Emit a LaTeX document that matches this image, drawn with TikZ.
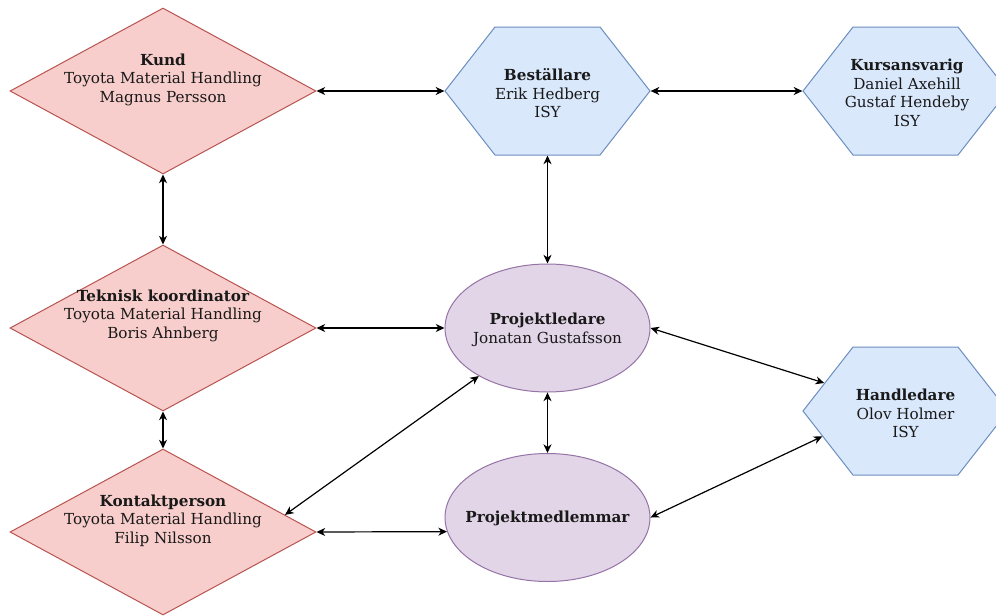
\documentclass[tikz,border=0pt]{standalone}
\usepackage{fontspec}
\setmainfont{DejaVu Serif}
\usetikzlibrary{shapes.geometric,shapes.symbols,arrows.meta}
\definecolor{redfill}{HTML}{F8CECC}
\definecolor{redline}{HTML}{B85450}
\definecolor{bluefill}{HTML}{DAE8FC}
\definecolor{blueline}{HTML}{6C8EBF}
\definecolor{purplefill}{HTML}{E1D5E7}
\definecolor{purpleline}{HTML}{9673A6}
\begin{document}
\begin{tikzpicture}[x=0.75pt,y=-0.75pt,
  redbox/.style={diamond, draw=redline, fill=redfill, minimum width=229.5pt, minimum height=124.5pt, inner sep=0pt, line width=0.75pt},
  hexbox/.style={signal, signal to=east and west, signal pointer angle=104, draw=blueline, fill=bluefill, minimum width=153.75pt, minimum height=96pt, inner sep=0pt, line width=0.75pt},
  ellbox/.style={ellipse, draw=purpleline, fill=purplefill, minimum width=153.75pt, minimum height=96pt, inner sep=0pt, line width=0.75pt},
  txt/.style={align=center, font=\fontsize{11.4pt}{13.9pt}\selectfont, inner sep=0pt, text=black!90},
  link/.style={{Stealth[length=6.5pt,width=6pt,inset=2pt]}-{Stealth[length=6.5pt,width=6pt,inset=2pt]}, line width=0.9pt}
]
\useasboundingbox (0,0) rectangle (996,615);
\clip (0,0) rectangle (996,615);
\fill[white] (0,0) rectangle (996,615);

\node[redbox] (kund) at (163,91) {};
\node[redbox] (tek) at (163,328) {};
\node[redbox] (kon) at (163,532) {};
\node[hexbox] (best) at (547.5,91) {};
\node[hexbox] (kurs) at (905.5,91) {};
\node[hexbox] (hand) at (905.5,411) {};
\node[ellbox] (pl) at (547.5,328) {};
\node[ellbox] (pm) at (547.5,517.5) {};

\node[txt] (kund-t) at (163,79.5) {\textbf{Kund}\\Toyota Material Handling\\Magnus Persson};
\node[txt] (tek-t) at (163,315.5) {\textbf{Teknisk koordinator}\\Toyota Material Handling\\Boris Ahnberg};
\node[txt] (kon-t) at (163,520.5) {\textbf{Kontaktperson}\\Toyota Material Handling\\Filip Nilsson};
\node[txt] (best-t) at (547.5,93.5) {\textbf{Beställare}\\Erik Hedberg\\ISY};
\node[txt] (kurs-t) at (907,93) {\textbf{Kursansvarig}\\Daniel Axehill\\Gustaf Hendeby\\ISY};
\node[txt] (hand-t) at (905.5,413.5) {\textbf{Handledare}\\Olov Holmer\\ISY};
\node[txt] (pl-t) at (547.5,330) {\textbf{Projektledare}\\Jonatan Gustafsson};
\node[txt] (pm-t) at (547.5,518.5) {\textbf{Projektmedlemmar}};

\draw[link] (kund) -- (best);
\draw[link] (best) -- (kurs);
\draw[link] (kund) -- (tek);
\draw[link] (tek) -- (kon);
\draw[link] (best) -- (pl);
\draw[link] (tek) -- (pl);
\draw[link] (pl) -- (pm);
\draw[link] (kon.east) -- (pm.188.3);
\draw[link] (kon.8) -- (pl.215);
\draw[link] (pl.east) -- (hand.161.5);
\draw[link] (pm.east) -- (hand.197);
\end{tikzpicture}
\end{document}
